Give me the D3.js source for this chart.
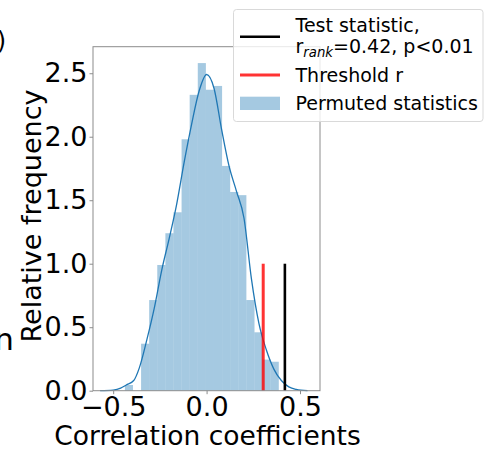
<!DOCTYPE html>
<html>
<head>
<meta charset="utf-8">
<script src="https://cdn.jsdelivr.net/npm/d3@7"></script>
<style>
  body { margin: 0; background: #fff; }
  svg { display: block; font-family: "DejaVu Sans", sans-serif; }
</style>
</head>
<body>
<svg id="chart" width="491" height="450"></svg>
<script>
// bordes de los bins del histograma (coeficiente de correlación)
const binStart = -0.4374;
const binWidth = 0.04336;
// densidad de cada bin
const histHeights = [0.045, 0, 0.37, 0.714, 0.99, 1.24, 1.405, 1.98, 2.33, 2.58,
                     2.37, 2.40, 1.77, 1.565, 1.54, 0.714, 0.46, 0.245, 0.228];

// curva KDE
const kdeX = [-0.57, -0.50, -0.46, -0.43, -0.39, -0.36, -0.32, -0.28, -0.24, -0.20,
              -0.16, -0.12, -0.08, -0.04, 0.00, 0.04, 0.08, 0.12, 0.16, 0.20,
              0.24, 0.28, 0.32, 0.36, 0.40, 0.44, 0.48, 0.54];
const kdeY = [0.0, 0.005, 0.02, 0.045, 0.08, 0.18, 0.40, 0.65, 0.95, 1.20,
              1.47, 1.80, 2.10, 2.36, 2.49, 2.38, 2.06, 1.77, 1.57, 1.36,
              0.88, 0.53, 0.32, 0.17, 0.08, 0.03, 0.01, 0.0];

// líneas verticales
const thresholdR = 0.303;
const testStat = 0.419;
const lineTop = 1.0;

const xTicks = [-0.5, 0.0, 0.5];
const yTicks = [0.0, 0.5, 1.0, 1.5, 2.0, 2.5];

const margin = { top: 46.7, left: 93, width: 227, height: 344 };
const fontBig = 27;

const svg = d3.select("#chart");

const x = d3.scaleLinear().domain([-0.608, 0.607]).range([margin.left, margin.left + margin.width]);
const y = d3.scaleLinear().domain([0, 2.709]).range([margin.top + margin.height, margin.top]);

const bins = histHeights.map((h, i) => ({ x0: binStart + i * binWidth, x1: binStart + (i + 1) * binWidth, h }));

// barras del histograma
svg.append("g").selectAll("rect").data(bins.filter(d => d.h > 0)).join("rect")
  .attr("x", d => x(d.x0))
  .attr("width", d => x(d.x1) - x(d.x0))
  .attr("y", d => y(d.h))
  .attr("height", d => y(0) - y(d.h))
  .attr("fill", "#1f77b4")
  .attr("fill-opacity", 0.4);

// KDE
const line = d3.line().x(d => x(d[0])).y(d => y(d[1])).curve(d3.curveMonotoneX);
svg.append("path")
  .datum(kdeX.map((v, i) => [v, kdeY[i]]))
  .attr("d", line)
  .attr("fill", "none")
  .attr("stroke", "#1f77b4")
  .attr("stroke-width", 1.3);

// threshold y estadístico
svg.append("line")
  .attr("x1", x(thresholdR)).attr("x2", x(thresholdR))
  .attr("y1", y(0)).attr("y2", y(lineTop))
  .attr("stroke", "red").attr("stroke-opacity", 0.8).attr("stroke-width", 3);
svg.append("line")
  .attr("x1", x(testStat)).attr("x2", x(testStat))
  .attr("y1", y(0)).attr("y2", y(lineTop))
  .attr("stroke", "black").attr("stroke-width", 2.6);

// ejes
const xAxis = svg.append("g")
  .attr("transform", `translate(0,${margin.top + margin.height})`)
  .call(d3.axisBottom(x).tickValues(xTicks).tickFormat(d => d3.format(".1f")(d).replace("-", "\u2212")).tickSizeOuter(0).tickSize(3.5).tickPadding(2.5));
const yAxis = svg.append("g")
  .attr("transform", `translate(${margin.left},0)`)
  .call(d3.axisLeft(y).tickValues(yTicks).tickFormat(d3.format(".1f")).tickSizeOuter(0).tickSize(3.5).tickPadding(2));
[xAxis, yAxis].forEach(a => {
  a.select(".domain").remove();
  a.selectAll(".tick line").attr("stroke", "#8c8c8c");
  a.selectAll(".tick text").attr("font-size", fontBig).attr("fill", "#000").attr("font-family", "DejaVu Sans");
});

// marco
svg.append("rect")
  .attr("x", margin.left).attr("y", margin.top)
  .attr("width", margin.width).attr("height", margin.height)
  .attr("fill", "none").attr("stroke", "#8c8c8c").attr("stroke-width", 1);

// etiquetas
svg.append("text")
  .attr("x", 207.5).attr("y", 445)
  .attr("text-anchor", "middle").attr("font-size", 26.5)
  .text("Correlation coefficients");
svg.append("text")
  .attr("transform", `translate(41,216) rotate(-90)`)
  .attr("text-anchor", "middle").attr("font-size", fontBig)
  .text("Relative frequency");

// restos de otros paneles
svg.append("text").attr("x", 6).attr("y", 49).attr("text-anchor", "end").attr("font-size", 24).text("b)");
svg.append("text").attr("x", 14).attr("y", 350).attr("text-anchor", "end").attr("font-size", 31).text("n");

// leyenda
const lg = svg.append("g");
lg.append("rect")
  .attr("x", 233.5).attr("y", 9.5).attr("width", 249.5).attr("height", 112)
  .attr("rx", 3).attr("fill", "#fff").attr("fill-opacity", 0.8)
  .attr("stroke", "#d9d9d9").attr("stroke-width", 1);
lg.append("line").attr("x1", 240).attr("x2", 280).attr("y1", 36.7).attr("y2", 36.7)
  .attr("stroke", "black").attr("stroke-width", 2.6);
lg.append("line").attr("x1", 240).attr("x2", 280).attr("y1", 75).attr("y2", 75)
  .attr("stroke", "red").attr("stroke-opacity", 0.8).attr("stroke-width", 3);
lg.append("rect").attr("x", 240).attr("y", 96.7).attr("width", 40).attr("height", 13.3)
  .attr("fill", "#1f77b4").attr("fill-opacity", 0.4);

const lt = lg.append("g").attr("font-size", 19);
lt.append("text").attr("x", 295.5).attr("y", 31.5).text("Test statistic,");
const t2 = lt.append("text").attr("x", 295.5).attr("y", 52.5);
t2.append("tspan").text("r");
t2.append("tspan").attr("font-style", "italic").attr("font-size", 13.3).attr("dy", 4).text("rank");
t2.append("tspan").attr("dy", -4).text("=0.42, p<0.01");
lt.append("text").attr("x", 295.5).attr("y", 81.5).text("Threshold r");
lt.append("text").attr("x", 295.5).attr("y", 110).text("Permuted statistics");
</script>
</body>
</html>
